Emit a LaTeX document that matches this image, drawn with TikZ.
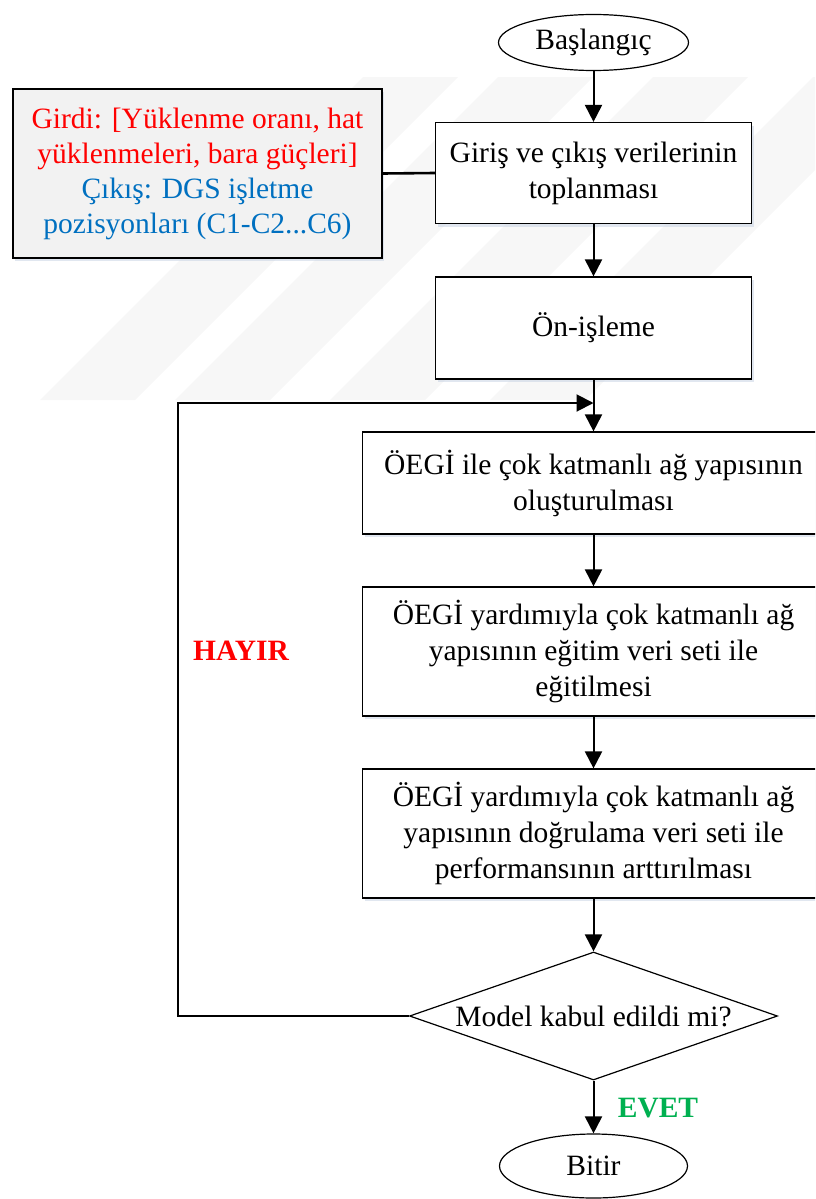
\documentclass[tikz,border=0pt]{standalone}
\usepackage{fontspec}
\setmainfont{Liberation Serif}
\usetikzlibrary{arrows.meta,shapes.geometric,shadows}
\definecolor{cred}{RGB}{255,0,0}
\definecolor{cblue}{RGB}{0,112,192}
\definecolor{cgreen}{RGB}{0,176,80}
\definecolor{boxfill}{RGB}{242,242,242}
\definecolor{shadowc}{RGB}{205,215,230}
\definecolor{wmark}{RGB}{247,247,247}
\begin{document}
\begin{tikzpicture}[x=1pt,y=-1pt,
  font=\fontsize{29.5}{36}\selectfont,
  shad/.style={drop shadow={shadow xshift=2pt,shadow yshift=-3pt,fill=shadowc,opacity=0.6}},
  box/.style={draw,line width=1.2pt,fill=white,minimum width=316pt,minimum height=101pt,align=center,inner sep=0pt,shad},
  widebox/.style={box,minimum width=462pt},
  inbox/.style={draw,line width=1.2pt,fill=boxfill,minimum width=369pt,minimum height=169pt,align=center,inner sep=0pt,shad,font=\fontsize{29.5}{35}\selectfont},
  term/.style={draw,ellipse,line width=1.2pt,fill=white,minimum width=190pt,minimum height=56pt,inner sep=0pt},
  decision/.style={draw,diamond,line width=1.2pt,fill=white,minimum width=368pt,minimum height=128pt,aspect=2.875,inner sep=0pt},
  arr/.style={line width=2pt,-{Triangle[width=17pt,length=17pt]}},
  lbl/.style={font=\fontsize{29.5}{36}\selectfont\bfseries}
]
\useasboundingbox (0,0) rectangle (815,1199);
\clip (0,0) rectangle (815,1199);
% faint watermark stripes
\foreach \b in {40,175,330,490}{
  \fill[wmark] (\b,400) -- (\b+95,400) -- (\b+95+323,77) -- (\b+323,77) -- cycle;
}
% nodes
\node[term] (start) at (593.5,42.5) {Başlangıç};
\node[box] (b1) at (593.5,173) {Giriş ve çıkış verilerinin\\toplanması};
\node[inbox] (inp) at (197.5,173.5) {\textcolor{cred}{Girdi: [Yüklenme oranı, hat}\\\textcolor{cred}{yüklenmeleri, bara güçleri]}\\\textcolor{cblue}{Çıkış: DGS işletme}\\\textcolor{cblue}{pozisyonları (C1-C2...C6)}};
\node[box,minimum height=102pt] (b2) at (593.5,328) {Ön-işleme};
\node[widebox,minimum height=102pt] (b3) at (593.5,483) {ÖEGİ ile çok katmanlı ağ yapısının\\oluşturulması};
\node[widebox,minimum height=129pt] (b4) at (593.5,651.5) {ÖEGİ yardımıyla çok katmanlı ağ\\yapısının eğitim veri seti ile\\eğitilmesi};
\node[widebox,minimum height=129pt] (b5) at (593.5,833.5) {ÖEGİ yardımıyla çok katmanlı ağ\\yapısının doğrulama veri seti ile\\performansının arttırılması};
\node[decision] (dec) at (593.5,1016) {};
\node (dectext) at (593.5,1016) {Model kabul edildi mi?};
\node[term,minimum width=188pt,minimum height=64pt] (end) at (593.5,1166) {Bitir};
\node[lbl,text=cred] (hayir) at (241,651) {HAYIR};
\node[lbl,text=cgreen] (evet) at (658,1108) {EVET};
\coordinate (join) at (593.5,403);
\coordinate (loopc) at (178,1016);
% connectors
\draw[arr] (start.south) -- (b1.north);
\draw[line width=2.6pt] (inp.east) -- (b1.west);
\draw[arr] (b1.south) -- (b2.north);
\draw[arr] (b2.south) -- (b3.north);
\draw[arr] (b3.south) -- (b4.north);
\draw[arr] (b4.south) -- (b5.north);
\draw[arr] (b5.south) -- (dec.north);
\draw[arr] (dec.south) -- (end.north);
\draw[arr] (dec.west) -- (loopc) |- (join);
\end{tikzpicture}
\end{document}
